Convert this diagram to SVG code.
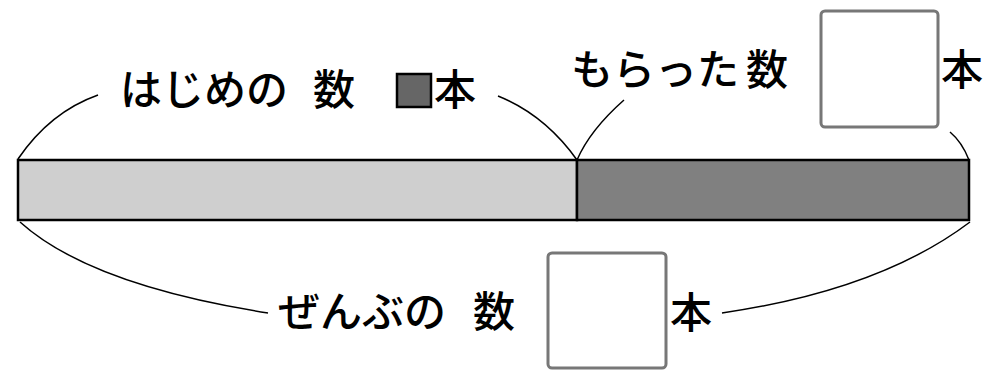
<svg xmlns="http://www.w3.org/2000/svg" width="1004" height="371" viewBox="0 0 1004 371">
<style>
text{font-family:"Noto Sans CJK JP","Noto Sans",sans-serif;font-size:42px;font-weight:500;fill:#000}
.brace{fill:none;stroke:#000;stroke-width:1.5}
.ans{fill:#fff;stroke:#777;stroke-width:3}
</style>
<rect width="1004" height="371" fill="#fff"/>
<g id="bar">
<rect x="18" y="160" width="559" height="60" fill="#cfcfcf" stroke="#000" stroke-width="2.5"/>
<rect x="577" y="160" width="392" height="60" fill="#808080" stroke="#000" stroke-width="2.5"/>
</g>
<g id="connectors">
<path class="brace" d="M18,159 Q50,112 98,95"/>
<path class="brace" d="M498,96 Q545,115 577,160"/>
<path class="brace" d="M577,160 Q590,130 624,100"/>
<path class="brace" d="M950,132 Q962,142 969,160"/>
<path class="brace" d="M20,222 Q90,285 268,313"/>
<path class="brace" d="M970,222 Q880,290 722,313"/>
</g>
<g id="label-hajime">
<text x="120" y="105">はじめの</text>
<text x="313" y="105">数</text>
<rect x="397" y="74" width="34" height="33" fill="#666" stroke="#000" stroke-width="2.5"/>
<text x="434" y="105">本</text>
</g>
<g id="label-moratta">
<text x="571" y="85">もらった</text>
<text x="746" y="85">数</text>
<rect class="ans" x="821" y="11" width="117" height="116" rx="4"/>
<text x="941" y="85">本</text>
</g>
<g id="label-zenbu">
<text x="278" y="327">ぜんぶの</text>
<text x="473" y="327">数</text>
<rect class="ans" x="548" y="253" width="118" height="115" rx="4"/>
<text x="670" y="328">本</text>
</g>
</svg>
